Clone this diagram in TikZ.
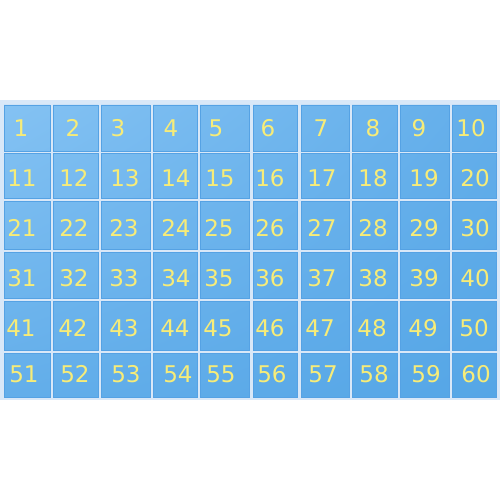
\documentclass[tikz,border=0pt]{standalone}
\usepackage{fontspec}
\setmainfont{DejaVu Sans}
\usetikzlibrary{shadings}
\definecolor{framecol}{HTML}{D9E8F8}
\definecolor{celllight}{HTML}{84C2F3}
\definecolor{cellmid}{HTML}{63AEEA}
\definecolor{celldark}{HTML}{55A6E6}
\definecolor{celledge}{HTML}{55A2E4}
\definecolor{numcol}{HTML}{F7EC78}
\tikzset{
  cellbox/.style={draw=celledge, line width=0.6pt, inner sep=0pt, outer sep=0pt, rectangle},
  num/.style={text=numcol, font=\fontsize{23}{23}\selectfont, inner sep=0pt}
}
\begin{document}
\begin{tikzpicture}[x=1pt,y=-1pt]
\useasboundingbox (0,0) rectangle (500,500);
\fill[white] (0,0) rectangle (500,500);
\fill[framecol] (0,100) rectangle (500,400);
\begin{scope}
\clip \foreach \l/\r in {4/50,53/98,101/150,153/197,200/249,253/297,301/349,352/397,400/449,452/496}{
  \foreach \t/\b in {105/151,153/198,201/249,252/298,301/350,353/397}{ (\l,\t) rectangle (\r,\b) } };
\shade[upper left=celllight, upper right=cellmid, lower left=cellmid, lower right=celldark] (4,105) rectangle (496,397);
\end{scope}
\foreach \t/\b [count=\j from 0] in {105/151,153/198,201/249,252/298,301/350,353/397}{
  \foreach \l/\r [count=\i] in {4/50,53/98,101/150,153/197,200/249,253/297,301/349,352/397,400/449,452/496}{
    \pgfmathtruncatemacro{\k}{\j*10+\i}
    \node[cellbox, minimum width={(\r-\l)*1pt}, minimum height={(\b-\t)*1pt}] (c\k) at ({(\l+\r)/2},{(\t+\b)/2}) {};
  }
}
\foreach \n/\x/\y in {
 1/21/128, 2/73/128, 3/118/128, 4/171/128, 5/216/128, 6/268/128, 7/321/128, 8/373/128, 9/419/128, 10/471/128,
 11/22/178, 12/74/178, 13/125/178, 14/176/178, 15/220/178, 16/270/178, 17/322/178, 18/373/178, 19/424/178, 20/475/178,
 21/22/228, 22/74/228, 23/124/228, 24/176/228, 25/219/228, 26/270/228, 27/322/228, 28/373/228, 29/424/228, 30/475/228,
 31/22/278, 32/74/278, 33/124/278, 34/176/278, 35/219/278, 36/270/278, 37/322/278, 38/373/278, 39/424/278, 40/475/278,
 41/21/328, 42/73/328, 43/124/328, 44/175/328, 45/218/328, 46/270/328, 47/320/328, 48/372/328, 49/423/328, 50/474/328,
 51/24/374, 52/75/374, 53/126/374, 54/178/374, 55/221/374, 56/272/374, 57/323/374, 58/374/374, 59/426/374, 60/476/374}{
  \node[num] (t\n) at (\x,\y) {\n};
}
\end{tikzpicture}
\end{document}
